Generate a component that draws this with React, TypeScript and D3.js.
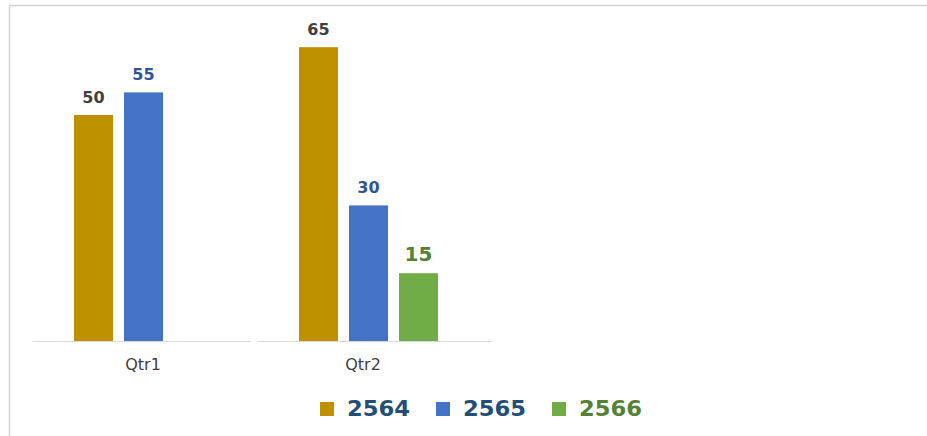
import React from "react";
import * as d3 from "d3";

const categories = ["Qtr1", "Qtr2"];
const seriesNames = ["2564", "2565", "2566"];
const values2564 = [50, 65];
const values2565 = [55, 30];
const values2566: (number | null)[] = [null, 15];

const barColors = ["#BF9000", "#4472C4", "#70AD47"];
const labelColors = ["#404040", "#2F5597", "#548235"];
const labelSizes = [16, 16, 20];
const legendTextColors = ["#1F4E79", "#1F4E79", "#548235"];

export default function App() {
  const W = 927;
  const H = 436;
  const baseY = 341;
  const seriesValues = [values2564, values2565, values2566];

  const x = d3.scaleBand<string>().domain(categories).range([30.5, 480.5]).padding(0);
  const inner = d3
    .scaleBand<string>()
    .domain(seriesNames)
    .range([43.5, 182.5])
    .paddingInner(0.22)
    .paddingOuter(0);
  const y = d3.scaleLinear().domain([0, 70]).range([baseY, baseY - 70 * 4.52]);

  const font = "'DejaVu Sans', 'Open Sans', sans-serif";

  return (
    <svg
      width={W}
      height={H}
      style={{ position: "absolute", left: 0, top: 0, background: "#fff" }}
    >
      <rect x={0} y={0} width={W} height={H} fill="#fff" />
      {/* frame */}
      <line x1={9.5} y1={5.5} x2={W} y2={5.5} stroke="#d4d4d4" strokeWidth={1.5} />
      <line x1={9.5} y1={5.5} x2={9.5} y2={H} stroke="#d4d4d4" strokeWidth={1.5} />

      {/* baseline segments */}
      {categories.map((c, i) => {
        const x0 = (x(c) as number) + 2;
        const x1 = (x(c) as number) + x.step() - 5 + (i === categories.length - 1 ? 16 : 0);
        return (
          <line key={c} x1={x0} x2={x1} y1={baseY + 0.5} y2={baseY + 0.5} stroke="#d9d9d9" strokeWidth={1.2} />
        );
      })}

      {/* bars */}
      {seriesNames.map((s, si) =>
        categories.map((c, ci) => {
          const v = seriesValues[si][ci];
          if (v == null) return null;
          const bx = (x(c) as number) + (inner(s) as number);
          const by = y(v);
          return (
            <g key={s + c}>
              <rect x={bx} y={by} width={inner.bandwidth()} height={baseY - by} fill={barColors[si]} />
              <text
                x={bx + inner.bandwidth() / 2}
                y={by - 12.5}
                textAnchor="middle"
                fontFamily={font}
                fontWeight="bold"
                fontSize={labelSizes[si]}
                fill={labelColors[si]}
              >
                {v}
              </text>
            </g>
          );
        })
      )}

      {/* category labels */}
      {categories.map((c) => (
        <text
          key={c}
          x={(x(c) as number) + x.bandwidth() / 2 - (c === "Qtr2" ? 5 : 0)}
          y={370}
          textAnchor="middle"
          fontFamily={font}
          fontSize={16}
          fill="#404040"
        >
          {c}
        </text>
      ))}

      {/* legend */}
      {seriesNames.map((s, i) => {
        const lx = 320 + i * 116;
        return (
          <g key={s}>
            <rect x={lx} y={402} width={14} height={14} fill={barColors[i]} />
            <text
              x={lx + 27}
              y={416}
              fontFamily={font}
              fontWeight="bold"
              fontSize={21}
              fill={legendTextColors[i]}
              textLength={63}
              lengthAdjust="spacingAndGlyphs"
            >
              {s}
            </text>
          </g>
        );
      })}
    </svg>
  );
}
